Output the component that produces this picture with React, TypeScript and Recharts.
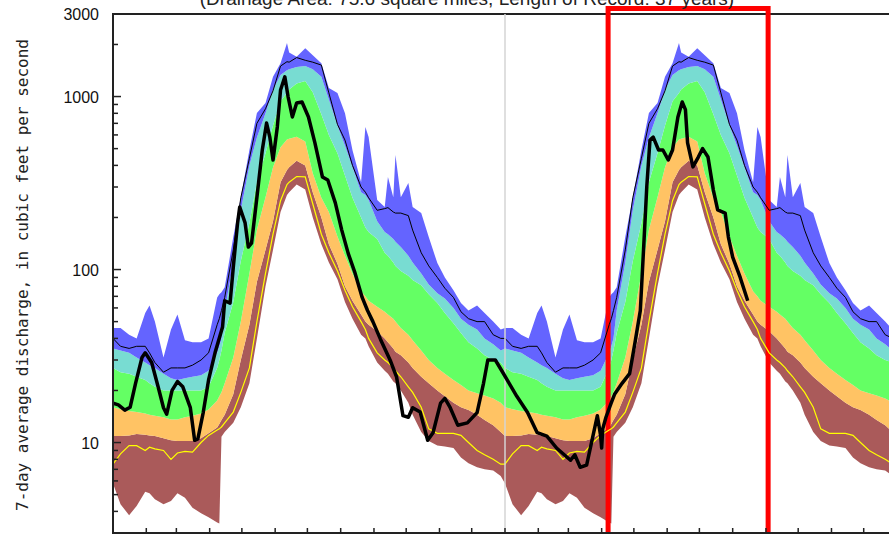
import {
  ComposedChart,
  Area,
  Line,
  XAxis,
  YAxis,
  ReferenceLine,
  ReferenceArea,
} from "recharts";

// day-of-year statistics (same for every year on the chart)
const statDays = [0, 7, 15, 22, 30, 34, 39, 47, 54, 60, 67, 74, 82, 89, 97, 99, 101, 104, 112, 119, 127, 134, 142, 149, 156, 162, 164, 171, 179, 186, 194, 201, 209, 216, 223, 231, 235, 238, 246, 253, 256, 261, 263, 268, 275, 279, 287, 294, 302, 309, 317, 324, 331, 339, 346, 354, 361];
const maxFlow = [46, 46, 42, 40, 56, 62, 50, 31, 45, 55, 39, 38, 38, 40, 69, 72, 74, 79, 154, 262, 491, 803, 918, 1300, 1560, 2040, 1800, 1700, 1900, 1730, 1560, 1120, 1050, 800, 490, 320, 667, 583, 252, 230, 343, 262, 459, 262, 316, 230, 212, 154, 109, 90, 76, 64, 58, 62, 56, 50, 45];
const meanFlow = [40, 36, 35, 36, 36, 33, 29, 25.5, 27, 27, 27, 28, 30, 33, 48, 52, 58, 69, 130, 260, 440, 700, 850, 1080, 1500, 1590, 1580, 1680, 1620, 1580, 1520, 1050, 690, 560, 400, 300, 280, 260, 220, 225, 228, 215, 212, 212, 205, 169, 125, 105, 90, 78, 69, 57, 52, 50, 50, 42, 40];
const p90Flow = [35, 34, 33, 31, 29, 28, 27, 25, 23.5, 23, 23.5, 24, 24.5, 26, 33, 36, 40, 58, 110, 220, 400, 580, 800, 1090, 1330, 1420, 1440, 1480, 1500, 1440, 1300, 960, 680, 520, 390, 280, 270, 252, 190, 165, 160, 150, 145, 135, 120, 110, 95, 82, 73, 68, 60, 52, 48, 45, 40, 37, 34];
const p75Flow = [27, 25.5, 25, 24, 23, 22, 21, 20, 20, 20, 20, 20, 20, 21, 27, 30, 34, 43, 65, 112, 185, 320, 470, 680, 940, 1050, 1100, 1190, 1230, 1060, 790, 600, 470, 350, 260, 200, 175, 165, 150, 125, 120, 110, 105, 98, 92, 87, 81, 72, 64, 56, 49, 43, 38, 35, 32, 30, 29];
const p25Flow = [16, 15.6, 15.2, 15, 14.7, 14.5, 14.3, 14, 13.6, 13.6, 14, 14.3, 14.7, 15.5, 17.5, 18.5, 19.5, 22, 31, 50, 95, 170, 262, 390, 510, 565, 570, 585, 550, 360, 260, 215, 155, 120, 95, 75, 70, 66, 61, 57, 55, 52, 50, 46, 42, 39, 34, 30, 27, 25, 23, 21.5, 20, 19.3, 18.7, 18, 17];
const p10Flow = [10.9, 10.9, 11, 11.2, 11.1, 11, 10.9, 10.6, 10.3, 10.2, 10.2, 10.2, 10.6, 11.3, 12.2, 12.8, 13.5, 14.5, 19, 30, 48, 85, 130, 190, 320, 376, 390, 425, 400, 280, 200, 140, 108, 80, 66, 55, 50, 48, 44, 40, 38, 35, 33.5, 32, 29, 27, 24, 22, 20, 18.5, 17, 16, 15.4, 14.5, 13.5, 12.6, 11.5];
const yellowFlow = [7.5, 8.6, 9.6, 9.6, 9, 9.4, 9.2, 9, 8, 8.7, 8.9, 8.8, 10, 11, 11.8, 12, 12.3, 13, 15, 19.5, 27, 50, 95, 160, 250, 310, 320, 345, 343, 240, 160, 125, 98, 76, 61, 50, 45, 40, 33, 30, 29, 27, 26, 24, 21, 19.5, 16, 12, 11.3, 11.3, 11.3, 11, 10, 9, 8.5, 8, 7.5];
const minFlow = [5.8, 4.4, 3.8, 4.3, 5.2, 5.1, 4.7, 4.4, 4.6, 5.1, 4.8, 4.2, 3.9, 3.7, 3.45, 3.4, 10.8, 11.5, 13, 16, 22, 40, 80, 130, 215, 270, 280, 310, 290, 200, 140, 110, 88, 65, 52, 42, 40, 36, 29, 26, 25, 22.5, 22, 20, 17, 14.5, 11.5, 10.2, 9.6, 9.5, 9.3, 8.2, 7.6, 7.2, 7, 6.9, 6.4];

// current 7-day average discharge
const currentDays = [0, 5, 11, 16, 21, 27, 30, 36, 42, 47, 50, 55, 60, 65, 72, 76, 79, 84, 89, 95, 102, 104, 109, 112, 116, 118, 123, 126, 129, 134, 139, 143, 146, 149, 153, 156, 160, 163, 167, 171, 176, 182, 188, 195, 200, 207, 213, 219, 225, 232, 237, 242, 249, 258, 264, 270, 275, 279, 286, 293, 298, 305, 309, 314, 321, 330, 339, 345, 349, 356, 362, 367, 376, 386, 395, 404, 413, 426, 430, 435, 441, 446, 451, 454, 455, 456, 459, 464, 467, 474, 481, 486, 491, 494, 497, 500, 503, 508, 512, 517, 521, 526, 530, 533, 535, 540, 545, 549, 554, 559, 563, 570, 573, 577, 584, 591];
const currentFlow = [16.9, 16.5, 15.4, 16, 22, 31, 33, 29, 21, 15.9, 14.6, 20, 22.5, 21, 15.9, 10.3, 10.5, 14.9, 23, 33, 46.5, 66, 64, 103, 186, 230, 186, 135, 142, 262, 491, 703, 583, 430, 667, 1090, 1300, 1000, 762, 918, 930, 762, 540, 343, 329, 243, 169, 124, 97, 69, 58, 50, 39.6, 30, 24, 14.3, 14, 15.9, 15, 10.3, 11.4, 16.9, 18, 15.9, 12.6, 13, 14.9, 22, 30, 30, 26, 23, 18.5, 14.9, 11.4, 10.9, 9.3, 7.9, 8.5, 7.2, 7.4, 10.3, 14.3, 11, 9.3, 12, 14, 17, 19, 22, 25, 37.7, 58, 130, 300, 561, 583, 491, 491, 430, 491, 762, 930, 840, 540, 392, 447, 500, 447, 288, 221, 212, 154, 118, 90, 66];

const monthTicks = [0, 31, 59, 90, 120, 151, 181, 212, 243, 273, 304, 334, 365, 396, 424, 455, 485, 516, 546, 577, 608, 638, 669, 699, 730];
const flowTicks = [3000, 2000, 1000, 900, 800, 700, 600, 500, 400, 300, 200, 100, 90, 80, 70, 60, 50, 40, 30, 20, 10, 9, 8, 7, 6, 5, 4];
const flowLabels = [3000, 1000, 100, 10];
const majorTicks = [1000, 100, 10];

const statRows: any[] = [];
for (let yr = 0; yr < 3; yr++) {
  statDays.forEach((d, i) => {
    const day = d + 365 * yr;
    if (day > 730) return;
    statRows.push({
      day,
      max: maxFlow[i],
      mean: meanFlow[i],
      p90: p90Flow[i],
      p75: p75Flow[i],
      p25: p25Flow[i],
      p10: p10Flow[i],
      yellow: yellowFlow[i],
      min: minFlow[i],
    });
  });
}

const currentRows = currentDays.map((day, i) => ({ day, flow: currentFlow[i] }));

function FlowTick({ x, y, payload }: any) {
  const v = payload.value;
  return (
    <g>
      {v !== 3000 && (
        <line x1={x} x2={x + (majorTicks.includes(v) ? 8 : 5)} y1={y} y2={y} stroke="#222" strokeWidth={1.5} />
      )}
      {flowLabels.includes(v) && (
        <text x={x - 14} y={y} dy={6} textAnchor="end" fontSize={16} fill="#111" fontFamily="Liberation Sans, Arial, sans-serif">
          {v}
        </text>
      )}
    </g>
  );
}

function MonthTick({ x, y }: any) {
  return <line x1={x} x2={x} y1={y - 5} y2={y} stroke="#222" strokeWidth={1.5} />;
}

export default function App() {
  return (
    <div style={{ position: "fixed", left: 0, top: 0, width: 889, height: 534, overflow: "hidden", background: "#fff" }}>
      <ComposedChart
        width={907}
        height={560}
        data={statRows}
        margin={{ top: 14, right: 10, left: 53, bottom: 0 }}
      >
        <XAxis
          type="number"
          dataKey="day"
          domain={[0, 730]}
          ticks={monthTicks}
          interval={0}
          allowDataOverflow
          tickLine={false}
          tickSize={0}
          tickMargin={0}
          tick={(p: any) => <MonthTick {...p} />}
          axisLine={{ stroke: "#222", strokeWidth: 2 }}
          height={27}
        />
        <YAxis
          type="number"
          scale="log"
          domain={[3, 3000]}
          allowDataOverflow
          ticks={flowTicks}
          interval={0}
          tickLine={false}
          tickSize={0}
          tickMargin={0}
          tick={(p: any) => <FlowTick {...p} />}
          axisLine={{ stroke: "#222", strokeWidth: 2 }}
          width={60}
        />

        <Area dataKey={(r: any) => [r.min, r.p10]} type="linear" stroke="none" fill="#aa5a5a" fillOpacity={1} isAnimationActive={false} activeDot={false} />
        <Area dataKey={(r: any) => [r.p10, r.p25]} type="linear" stroke="none" fill="#ffc364" fillOpacity={1} isAnimationActive={false} activeDot={false} />
        <Area dataKey={(r: any) => [r.p25, r.p75]} type="linear" stroke="none" fill="#64ff64" fillOpacity={1} isAnimationActive={false} activeDot={false} />
        <Area dataKey={(r: any) => [r.p75, r.p90]} type="linear" stroke="none" fill="#78dcd2" fillOpacity={1} isAnimationActive={false} activeDot={false} />
        <Area dataKey={(r: any) => [r.p90, r.max]} type="linear" stroke="none" fill="#6464ff" fillOpacity={1} isAnimationActive={false} activeDot={false} />

        <Line dataKey="yellow" type="linear" stroke="#ffff00" strokeWidth={1.2} dot={false} activeDot={false} isAnimationActive={false} />
        <Line dataKey="mean" type="linear" stroke="#000" strokeWidth={1} dot={false} activeDot={false} isAnimationActive={false} />

        <ReferenceLine x={365} stroke="#d4d4d4" strokeWidth={1.5} />

        <Line
          data={currentRows}
          dataKey="flow"
          type="linear"
          stroke="#000"
          strokeWidth={3.5}
          strokeLinejoin="round"
          dot={false}
          activeDot={false}
          isAnimationActive={false}
        />

        <ReferenceArea x1={0} x2={730} y1={3} y2={3000} fill="none" stroke="#222" strokeWidth={2} ifOverflow="visible" />
        <ReferenceArea x1={461} x2={610} y1={2.7} y2={3230} fill="none" stroke="#ff0000" strokeWidth={5} ifOverflow="visible" />
      </ComposedChart>

      <svg width={889} height={534} style={{ position: "absolute", left: 0, top: 0, pointerEvents: "none" }}>
        <text x={467} y={5} textAnchor="middle" fontSize={19} fill="#222" fontFamily="Liberation Sans, Arial, sans-serif">
          (Drainage Area: 75.6 square miles, Length of Record: 37 years)
        </text>
        <text
          transform="translate(28 275) rotate(-90)"
          textAnchor="middle"
          fontSize={16}
          fill="#222"
          fontFamily="DejaVu Sans Mono, monospace"
        >
          7-day average discharge, in cubic feet per second
        </text>
      </svg>
    </div>
  );
}
